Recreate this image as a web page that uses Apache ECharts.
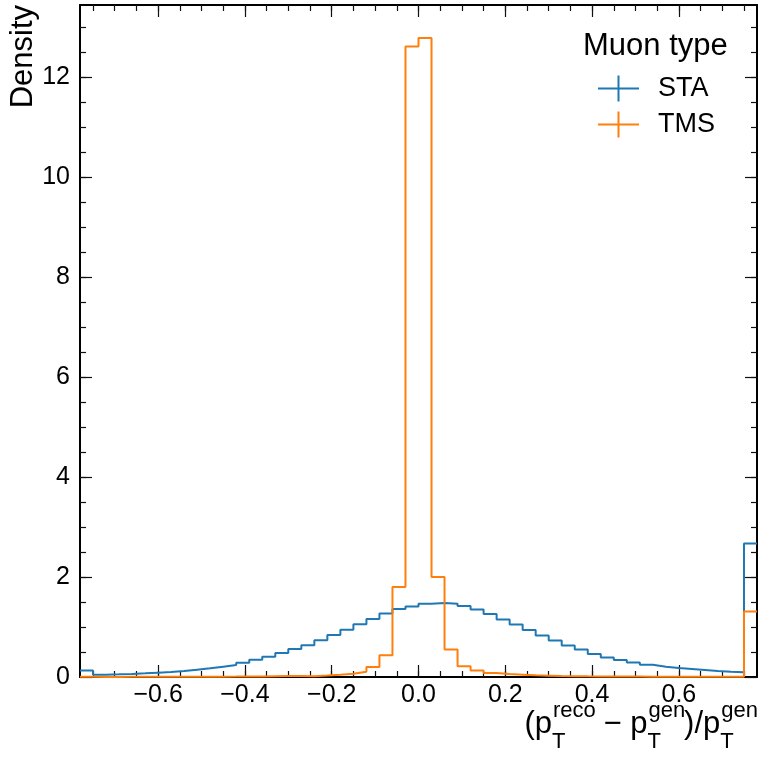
<!DOCTYPE html>
<html><head><meta charset="utf-8">
<script src="https://cdn.jsdelivr.net/npm/echarts@6/dist/echarts.min.js"></script>
<style>html,body{margin:0;padding:0;background:#fff}#c{width:759px;height:759px}</style>
</head><body><div id="c"></div>
<script>
// ---- data ----
const binLow = -0.78;
const binWidth = 0.03;
const seriesNames = ['STA', 'TMS'];
const staValues = [0.13, 0.047, 0.053, 0.06, 0.073, 0.087, 0.10, 0.12, 0.147, 0.173,
  0.207, 0.24, 0.287, 0.347, 0.407, 0.48, 0.56, 0.635, 0.735, 0.84,
  0.945, 1.055, 1.16, 1.27, 1.36, 1.41, 1.465, 1.48, 1.465, 1.42,
  1.35, 1.26, 1.15, 1.05, 0.94, 0.83, 0.73, 0.63, 0.55, 0.46,
  0.39, 0.34, 0.29, 0.245, 0.205, 0.18, 0.16, 0.14, 0.12, 0.105,
  0.093, 2.67];
const tmsValues = [0.005, 0.002, 0.002, 0.003, 0.003, 0.003, 0.004, 0.004, 0.005, 0.006,
  0.007, 0.008, 0.01, 0.012, 0.015, 0.018, 0.02, 0.015, 0.03, 0.047,
  0.067, 0.107, 0.2, 0.433, 1.8, 12.62, 12.79, 2.0, 0.55, 0.213,
  0.13, 0.08, 0.06, 0.047, 0.033, 0.027, 0.02, 0.017, 0.014, 0.012,
  0.01, 0.009, 0.008, 0.007, 0.006, 0.005, 0.005, 0.004, 0.004, 0.004,
  0.003, 1.31];
const xMajorTicks = [-0.6, -0.4, -0.2, 0.0, 0.2, 0.4, 0.6];
const xMinorTicks = [-0.75, -0.7, -0.65, -0.6, -0.55, -0.5, -0.45, -0.4, -0.35, -0.3, -0.25, -0.2, -0.15, -0.1, -0.05,
  0, 0.05, 0.1, 0.15, 0.2, 0.25, 0.3, 0.35, 0.4, 0.45, 0.5, 0.55, 0.6, 0.65, 0.7, 0.75];
const yMajorTicks = [0, 2, 4, 6, 8, 10, 12];
const yMinorTicks = [0.5, 1, 1.5, 2, 2.5, 3, 3.5, 4, 4.5, 5, 5.5, 6, 6.5, 7, 7.5, 8, 8.5, 9, 9.5, 10, 10.5, 11, 11.5, 12, 12.5, 13];
const yMax = 13.45;
const legendTitle = 'Muon type';
const yTitle = 'Density';
const colors = ['#1f77b4', '#ff7f0e'];

// ---- build ----
const FONT = '"Liberation Sans", Arial, Helvetica, sans-serif';
const nBins = staValues.length;
const edge = i => Math.round((binLow + i * binWidth) * 1000) / 1000;
const xMin = edge(0), xMax = edge(nBins);
function stepPoints(vals) {
  const pts = vals.map((v, i) => [edge(i), v]);
  pts.push([edge(vals.length), vals[vals.length - 1]]);
  return pts;
}
const tickLine = {color: '#111', width: 1.2};
const TICKFS = 25;
function xAx(pos, ticks, len, line, labels) {
  return {
    type: 'value', position: pos, min: xMin, max: xMax,
    axisLine: {show: line, onZero: false, lineStyle: {color: '#000', width: 2}},
    axisTick: {show: true, inside: true, length: len, customValues: ticks, lineStyle: tickLine},
    axisLabel: labels ? {show: true, customValues: ticks, fontSize: TICKFS, color: '#000', fontFamily: FONT, margin: 6,
      formatter: v => (Math.abs(v) < 1e-9 ? '0.0' : v.toFixed(1)).replace('-', '\u2212')} : {show: false},
    splitLine: {show: false}
  };
}
function yAx(pos, ticks, len, line, labels) {
  return {
    type: 'value', position: pos, min: 0, max: yMax,
    axisLine: {show: line, onZero: false, lineStyle: {color: '#000', width: 2}},
    axisTick: {show: true, inside: true, length: len, customValues: ticks, lineStyle: tickLine},
    axisLabel: labels ? {show: true, customValues: ticks, fontSize: TICKFS, color: '#000', fontFamily: FONT, margin: 10,
      formatter: v => String(Math.round(v))} : {show: false},
    splitLine: {show: false}
  };
}

// x-axis title layout (text measured, then placed right-aligned)
const mctx = document.createElement('canvas').getContext('2d');
function tw(t, s) { mctx.font = s + 'px ' + FONT; return mctx.measureText(t).width; }
const MAIN = 31, SCR = 22, MID = 0.3465;
const baseY = 735, rightX = 757;
const parts = [['(', null], ['p', null], ['T', 'reco'], [' \u2212 ', null], ['p', null], ['T', 'gen'], [')/', null], ['p', null], ['T', 'gen']];
const isScript = p => p[1] !== null;
let total = 0;
const widths = parts.map(p => isScript(p) ? Math.max(tw(p[0], SCR), tw(p[1], SCR)) : tw(p[0], MAIN));
widths.forEach(w => total += w);
let cx = rightX - total;
const titleEls = [];
parts.forEach((p, i) => {
  if (isScript(p)) {
    titleEls.push({type: 'text', style: {text: p[0], x: cx, y: baseY + 15 - MID * SCR, fontSize: SCR, fontFamily: FONT, fill: '#000', verticalAlign: 'middle', align: 'left'}});
    titleEls.push({type: 'text', style: {text: p[1], x: cx + 1, y: baseY - 16 - MID * SCR, fontSize: SCR, fontFamily: FONT, fill: '#000', verticalAlign: 'middle', align: 'left'}});
  } else {
    titleEls.push({type: 'text', style: {text: p[0], x: cx, y: baseY - MID * MAIN, fontSize: MAIN, fontFamily: FONT, fill: '#000', verticalAlign: 'middle', align: 'left'}});
  }
  cx += widths[i];
});
titleEls.push({type: 'text', rotation: Math.PI / 2, x: 34 - MID * 31, y: 5,
  style: {text: yTitle, x: 0, y: 0, fontSize: 31, fontFamily: FONT, fill: '#000', align: 'right', verticalAlign: 'middle'}});

const crossIcon = 'path://M0,12L41,12L41,14L0,14Z M19.5,0L21.5,0L21.5,26L19.5,26Z';

const chart = echarts.init(document.getElementById('c'), null, {renderer: 'canvas'});
chart.setOption({
  animation: false,
  backgroundColor: '#fff',
  title: {text: legendTitle, left: 583, top: 31, padding: 0, textStyle: {fontSize: 31, fontWeight: 'normal', color: '#000', fontFamily: FONT}},
  legend: {
    orient: 'vertical', left: 598, top: 75, padding: 0, itemWidth: 41, itemHeight: 26, itemGap: 9,
    icon: crossIcon, data: seriesNames, selectedMode: false,
    itemStyle: {borderWidth: 0},
    textStyle: {fontSize: 27, color: '#000', fontFamily: FONT, padding: [0, 0, 0, 14]}
  },
  grid: {left: 80, right: 2, top: 5, bottom: 82, containLabel: false},
  xAxis: [
    xAx('bottom', xMajorTicks, 12, true, true),
    xAx('bottom', xMinorTicks, 6, false, false),
    xAx('top', xMajorTicks, 12, true, false),
    xAx('top', xMinorTicks, 6, false, false)
  ],
  yAxis: [
    yAx('left', yMajorTicks, 12, true, true),
    yAx('left', yMinorTicks, 6, false, false),
    yAx('right', yMajorTicks, 12, true, false),
    yAx('right', yMinorTicks, 6, false, false)
  ],
  series: [
    {name: seriesNames[0], type: 'line', step: 'end', data: stepPoints(staValues), symbol: 'none',
      xAxisIndex: 0, yAxisIndex: 0, color: colors[0], lineStyle: {color: colors[0], width: 2}, z: 3},
    {name: seriesNames[1], type: 'line', step: 'end', data: stepPoints(tmsValues), symbol: 'none',
      xAxisIndex: 0, yAxisIndex: 0, color: colors[1], lineStyle: {color: colors[1], width: 2}, z: 4}
  ],
  graphic: titleEls
});
</script>
</body></html>
